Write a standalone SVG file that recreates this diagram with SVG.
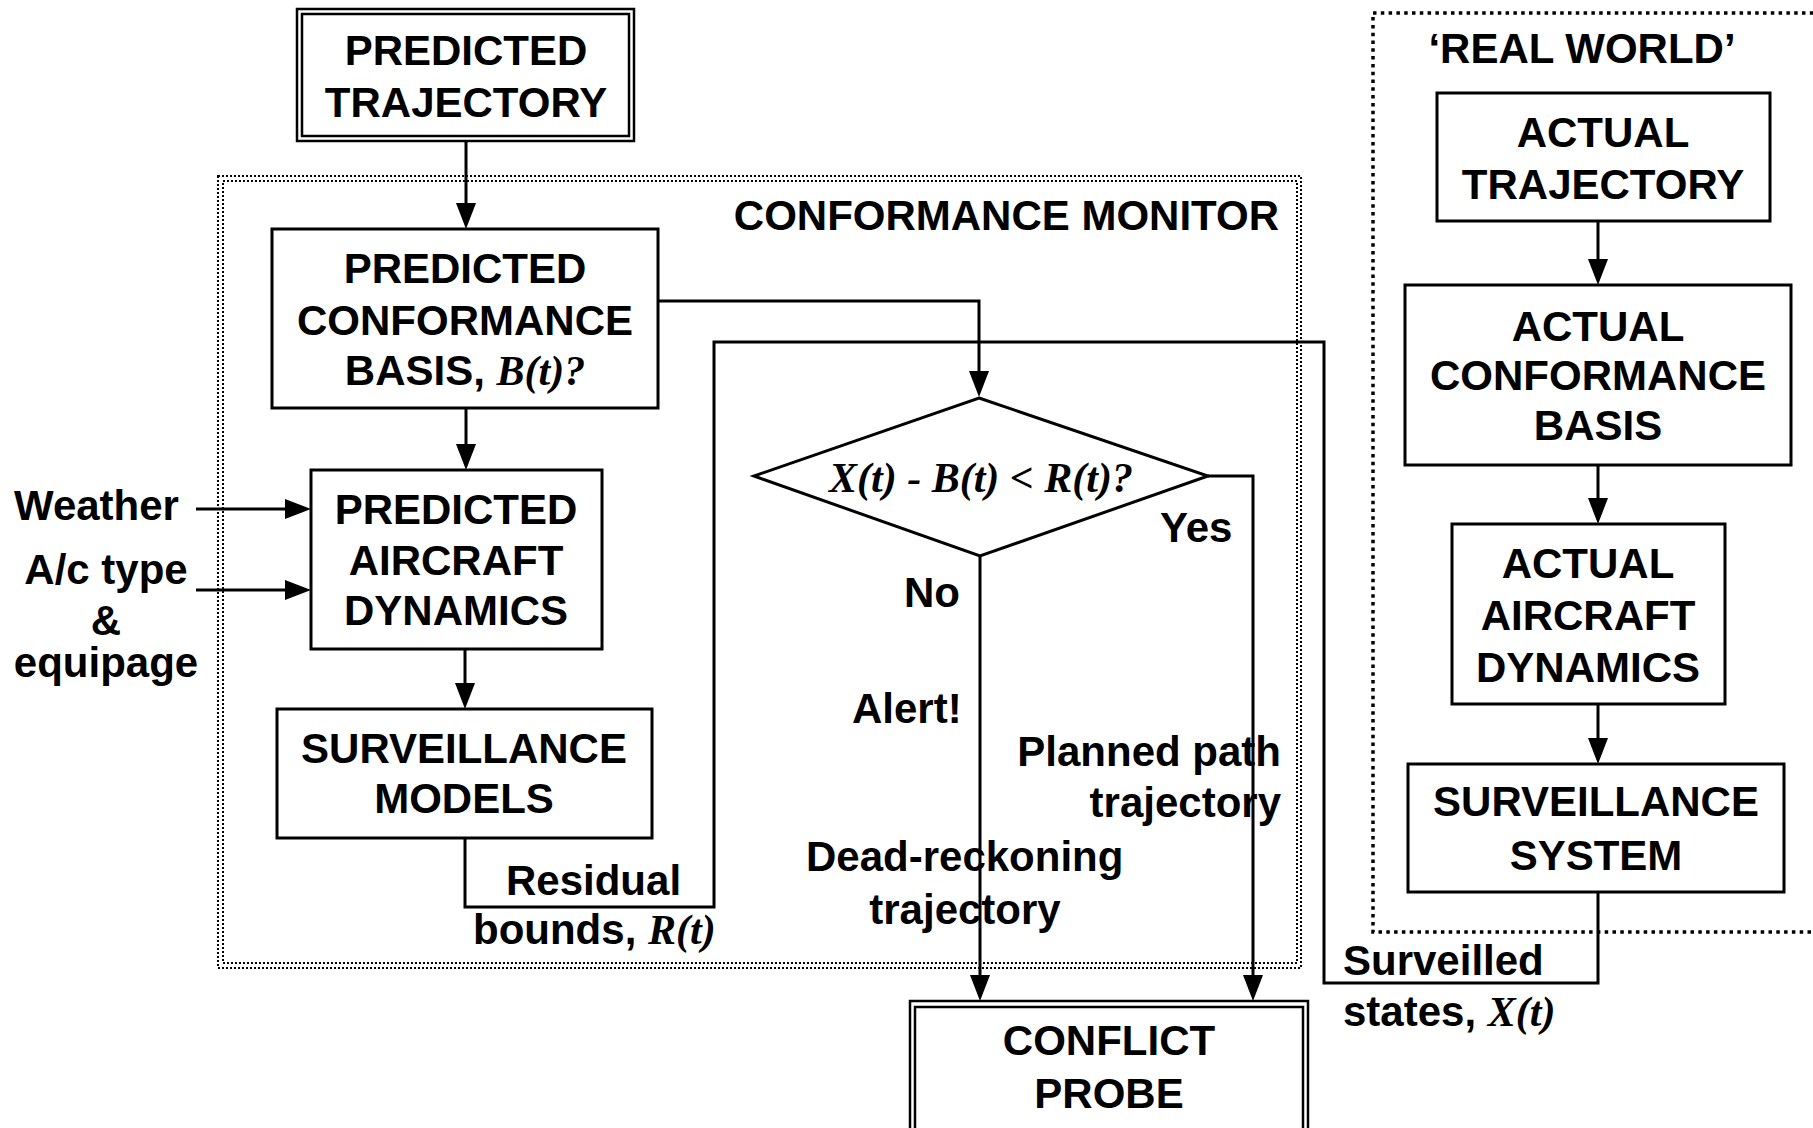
<svg xmlns="http://www.w3.org/2000/svg" width="1813" height="1128" viewBox="0 0 1813 1128">
<style>
.box{fill:#fff;stroke:#000;stroke-width:3}
.dbl{fill:none;stroke:#000;stroke-width:2.5}
.t{font-family:"Liberation Sans",Arial,sans-serif;font-weight:bold;font-size:42px;fill:#000}
.m{text-anchor:middle}
.e{text-anchor:end}
.math{font-family:"Liberation Serif","Times New Roman",serif;font-style:italic;font-weight:bold}
.ln{fill:none;stroke:#000;stroke-width:3}
.arr{fill:none;stroke:#000;stroke-width:3;marker-end:url(#ah)}
</style>
<defs>
<marker id="ah" markerUnits="userSpaceOnUse" markerWidth="20" markerHeight="26" viewBox="0 0 20 26" refX="10" refY="26" orient="auto-start-reverse">
<path d="M0,0 L20,0 L10,26 Z" fill="#000" transform="rotate(0)"/>
</marker>
<marker id="ahr" markerUnits="userSpaceOnUse" markerWidth="26" markerHeight="20" viewBox="0 0 26 20" refX="26" refY="10" orient="0">
<path d="M0,0 L26,10 L0,20 Z" fill="#000"/>
</marker>
</defs>
<rect width="1813" height="1128" fill="#fff"/>

<g id="conformance-monitor">
<rect x="218" y="176" width="1083" height="792" fill="none" stroke="#000" stroke-width="2" stroke-dasharray="2 2"/>
<rect x="223" y="181" width="1074" height="782" fill="none" stroke="#000" stroke-width="2" stroke-dasharray="2 2"/>
<text class="t e" x="1279" y="230">CONFORMANCE MONITOR</text>
</g>

<g id="real-world">
<rect x="1373" y="13" width="520" height="919" fill="none" stroke="#000" stroke-width="3.5" stroke-dasharray="3.5 4.3"/>
<text class="t m" x="1582" y="63" font-size="38">‘REAL WORLD’</text>
</g>

<g id="connectors">
<path class="ln" d="M466,141 V205"/>
<path d="M456,203 L476,203 L466,229 Z"/>
<path class="ln" d="M466,408 V446"/>
<path d="M456,444 L476,444 L466,470 Z"/>
<path class="ln" d="M465,649 V685"/>
<path d="M455,683 L475,683 L465,709 Z"/>
<path class="ln" d="M658,301 H979 V373"/>
<path d="M969,371 L989,371 L979,397 Z"/>
<path class="ln" d="M465,838 V907 H714 V342 H1324 V983 H1598 V892"/>
<path class="ln" d="M980,556 V977"/>
<path d="M970,975 L990,975 L980,1001 Z"/>
<path class="ln" d="M1208,476 H1253 V977"/>
<path d="M1243,975 L1263,975 L1253,1001 Z"/>
<path class="ln" d="M196,509 H287"/>
<path d="M285,499 L311,509 L285,519 Z"/>
<path class="ln" d="M196,590 H287"/>
<path d="M285,580 L311,590 L285,600 Z"/>
<path class="ln" d="M1598,221 V261"/>
<path d="M1588,259 L1608,259 L1598,285 Z"/>
<path class="ln" d="M1598,465 V500"/>
<path d="M1588,498 L1608,498 L1598,524 Z"/>
<path class="ln" d="M1598,704 V740"/>
<path d="M1588,738 L1608,738 L1598,764 Z"/>
</g>

<g id="predicted-trajectory">
<rect class="dbl" x="297" y="9" width="337" height="132"/>
<rect class="dbl" x="302" y="14" width="327" height="122" fill="#fff"/>
<text class="t m" x="466" y="65">PREDICTED</text>
<text class="t m" x="466" y="117">TRAJECTORY</text>
</g>

<g id="predicted-conformance-basis">
<rect class="box" x="272" y="229" width="386" height="179"/>
<text class="t m" x="465" y="283">PREDICTED</text>
<text class="t m" x="465" y="335">CONFORMANCE</text>
<text class="t m" x="465" y="385">BASIS, <tspan class="math">B(t)?</tspan></text>
</g>

<g id="predicted-aircraft-dynamics">
<rect class="box" x="311" y="470" width="291" height="179"/>
<text class="t m" x="456" y="524">PREDICTED</text>
<text class="t m" x="456" y="575">AIRCRAFT</text>
<text class="t m" x="456" y="625">DYNAMICS</text>
</g>

<g id="surveillance-models">
<rect class="box" x="277" y="709" width="375" height="129"/>
<text class="t m" x="464" y="763">SURVEILLANCE</text>
<text class="t m" x="464" y="813">MODELS</text>
</g>

<g id="inputs">
<text class="t" x="14" y="520">Weather</text>
<text class="t m" x="106" y="584">A/c type</text>
<text class="t m" x="106" y="635">&amp;</text>
<text class="t m" x="106" y="677">equipage</text>
</g>

<g id="decision">
<path class="box" d="M979,398 L1208,476 L980,556 L754,476 Z"/>
<text class="t m math" x="981" y="492" font-size="40">X(t) - B(t) &lt; R(t)?</text>
</g>

<g id="labels">
<text class="t" x="1160" y="542">Yes</text>
<text class="t" x="904" y="607">No</text>
<text class="t" x="852" y="723">Alert!</text>
<text class="t e" x="1281" y="766">Planned path</text>
<text class="t e" x="1281" y="817">trajectory</text>
<text class="t" x="806" y="871">Dead-reckoning</text>
<text class="t m" x="965" y="924">trajectory</text>
<text class="t" x="506" y="895">Residual</text>
<text class="t" x="473" y="944">bounds, <tspan class="math">R(t)</tspan></text>
<text class="t" x="1343" y="975">Surveilled</text>
<text class="t" x="1343" y="1026">states, <tspan class="math">X(t)</tspan></text>
</g>

<g id="conflict-probe">
<rect class="dbl" x="910" y="1001" width="398" height="140" fill="#fff"/>
<rect class="dbl" x="915" y="1007" width="388" height="134"/>
<text class="t m" x="1109" y="1055">CONFLICT</text>
<text class="t m" x="1109" y="1108">PROBE</text>
</g>

<g id="actual-trajectory">
<rect class="box" x="1437" y="93" width="333" height="128"/>
<text class="t m" x="1603" y="147">ACTUAL</text>
<text class="t m" x="1603" y="199">TRAJECTORY</text>
</g>

<g id="actual-conformance-basis">
<rect class="box" x="1405" y="285" width="386" height="180"/>
<text class="t m" x="1598" y="341">ACTUAL</text>
<text class="t m" x="1598" y="390">CONFORMANCE</text>
<text class="t m" x="1598" y="440">BASIS</text>
</g>

<g id="actual-aircraft-dynamics">
<rect class="box" x="1452" y="524" width="273" height="180"/>
<text class="t m" x="1588" y="578">ACTUAL</text>
<text class="t m" x="1588" y="630">AIRCRAFT</text>
<text class="t m" x="1588" y="682">DYNAMICS</text>
</g>

<g id="surveillance-system">
<rect class="box" x="1408" y="764" width="376" height="128"/>
<text class="t m" x="1596" y="816">SURVEILLANCE</text>
<text class="t m" x="1596" y="870">SYSTEM</text>
</g>
</svg>
